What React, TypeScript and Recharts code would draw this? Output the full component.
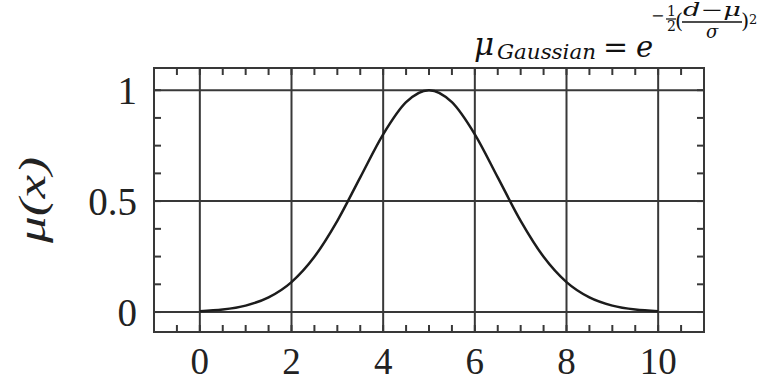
import React from 'react'
import { LineChart, Line, XAxis, YAxis, ReferenceLine, ReferenceArea } from 'recharts'

// membership values, x = 0 .. 10 in steps of 0.5
const xValues = [0, 0.5, 1, 1.5, 2, 2.5, 3, 3.5, 4, 4.5, 5, 5.5, 6, 6.5, 7, 7.5, 8, 8.5, 9, 9.5, 10]
const muValues = [0.004, 0.011, 0.029, 0.066, 0.135, 0.249, 0.411, 0.607, 0.801, 0.946, 1, 0.946, 0.801, 0.607, 0.411, 0.249, 0.135, 0.066, 0.029, 0.011, 0.004]

const xMajor = [0, 2, 4, 6, 8, 10]
const xMinor = [-0.5, 0, 0.5, 1, 1.5, 2, 2.5, 3, 3.5, 4, 4.5, 5, 5.5, 6, 6.5, 7, 7.5, 8, 8.5, 9, 9.5, 10, 10.5]
const yMajor = [0, 0.5, 1]
const yMinor = [0, 0.125, 0.25, 0.375, 0.5, 0.625, 0.75, 0.875, 1]

const xDomain: [number, number] = [-1, 11]
const yDomain: [number, number] = [-0.09, 1.1]

const data = xValues.map((x, i) => ({ x, mu: muValues[i] }))

const W = 764, H = 381
const margin = { top: 68, right: 60, bottom: 0, left: 74 }
const yAxisW = 80, xAxisH = 49
const plotW = W - margin.left - margin.right - yAxisW
const plotH = H - margin.top - margin.bottom - xAxisH
const TICK = 7
// tick length for the top/right frame ticks, in axis units
const tickX = TICK * (xDomain[1] - xDomain[0]) / plotW
const tickY = TICK * (yDomain[1] - yDomain[0]) / plotH

const ink = '#383838'
const serif = '"Liberation Serif", "Times New Roman", serif'
const mathFont = '"DejaVu Serif", serif'

const axisLine = { stroke: ink, strokeWidth: 2 }
const tickLine = { stroke: ink, strokeWidth: 2 }

const Formula: React.FC = () => (
  <g fill="#111" fontFamily={mathFont} fontStyle="italic">
    <text x={474} y={55} fontSize={31}>μ</text>
    <text x={497} y={59} fontSize={21} textLength={99} lengthAdjust="spacingAndGlyphs">Gaussian</text>
    <text x={603} y={57} fontSize={30} fontStyle="normal">=</text>
    <text x={636} y={57} fontSize={29}>e</text>
    <text x={651} y={21} fontSize={16} fontStyle="normal">−</text>
    <text x={667} y={16} fontSize={14} fontStyle="normal">1</text>
    <line x1={666} x2={676} y1={19} y2={19} stroke="#111" strokeWidth={1.2} />
    <text x={667} y={31} fontSize={14} fontStyle="normal">2</text>
    <text x={675} y={28} fontSize={21} fontStyle="normal">(</text>
    <text x={683} y={16} fontSize={18} textLength={58} lengthAdjust="spacingAndGlyphs">d−μ</text>
    <line x1={682} x2={742} y1={22} y2={22} stroke="#111" strokeWidth={1.3} />
    <text x={706} y={38} fontSize={18}>σ</text>
    <text x={741} y={28} fontSize={21} fontStyle="normal">)</text>
    <text x={749} y={24} fontSize={13} fontStyle="normal">2</text>
  </g>
)

export default function App() {
  return (
    <div style={{ position: 'fixed', left: 0, top: 0, width: W, height: H, background: '#fff' }}>
      <LineChart width={W} height={H} data={data} margin={margin}>
        <XAxis
          dataKey="x" type="number" domain={xDomain} allowDataOverflow
          ticks={xMinor} interval={0} height={xAxisH}
          tickSize={-TICK} tickMargin={23}
          tickFormatter={(v: number) => (xMajor.includes(v) ? String(v) : '')}
          axisLine={axisLine} tickLine={tickLine}
          tick={{ fontSize: 37, fill: '#222', fontFamily: serif }}
        />
        <YAxis
          type="number" domain={yDomain} allowDataOverflow
          ticks={yMinor} interval={0} width={yAxisW}
          tickSize={-TICK} tickMargin={24}
          tickFormatter={(v: number) => (yMajor.includes(v) ? String(v) : '')}
          axisLine={axisLine} tickLine={tickLine}
          tick={{ fontSize: 39, fill: '#222', fontFamily: serif }}
        />
        <ReferenceArea x1={xDomain[0]} x2={xDomain[1]} y1={yDomain[0]} y2={yDomain[1]} fill="none" stroke={ink} strokeWidth={2} fillOpacity={0} ifOverflow="visible" />
        {xMinor.map(v => (
          <ReferenceLine key={'tt' + v} segment={[{ x: v, y: yDomain[1] }, { x: v, y: yDomain[1] - tickY }]} stroke={ink} strokeWidth={2} ifOverflow="visible" />
        ))}
        {yMinor.map(v => (
          <ReferenceLine key={'rt' + v} segment={[{ x: xDomain[1], y: v }, { x: xDomain[1] - tickX, y: v }]} stroke={ink} strokeWidth={2} ifOverflow="visible" />
        ))}
        {xMajor.map(v => (
          <ReferenceLine key={'vx' + v} x={v} stroke={ink} strokeWidth={2} />
        ))}
        {yMajor.map(v => (
          <ReferenceLine key={'hy' + v} y={v} stroke={ink} strokeWidth={2} />
        ))}
        <Line type="monotone" dataKey="mu" stroke="#1c1c1c" strokeWidth={2.5} dot={false} isAnimationActive={false} />
      </LineChart>
      <svg width={W} height={H} style={{ position: 'absolute', left: 0, top: 0, pointerEvents: 'none' }}>
        <Formula />
        <text transform="translate(45,200) rotate(-90)" textAnchor="middle" fontFamily={serif} fontStyle="italic" fontSize={38} fill="#222" textLength={86} lengthAdjust="spacingAndGlyphs">μ(x)</text>
      </svg>
    </div>
  )
}
